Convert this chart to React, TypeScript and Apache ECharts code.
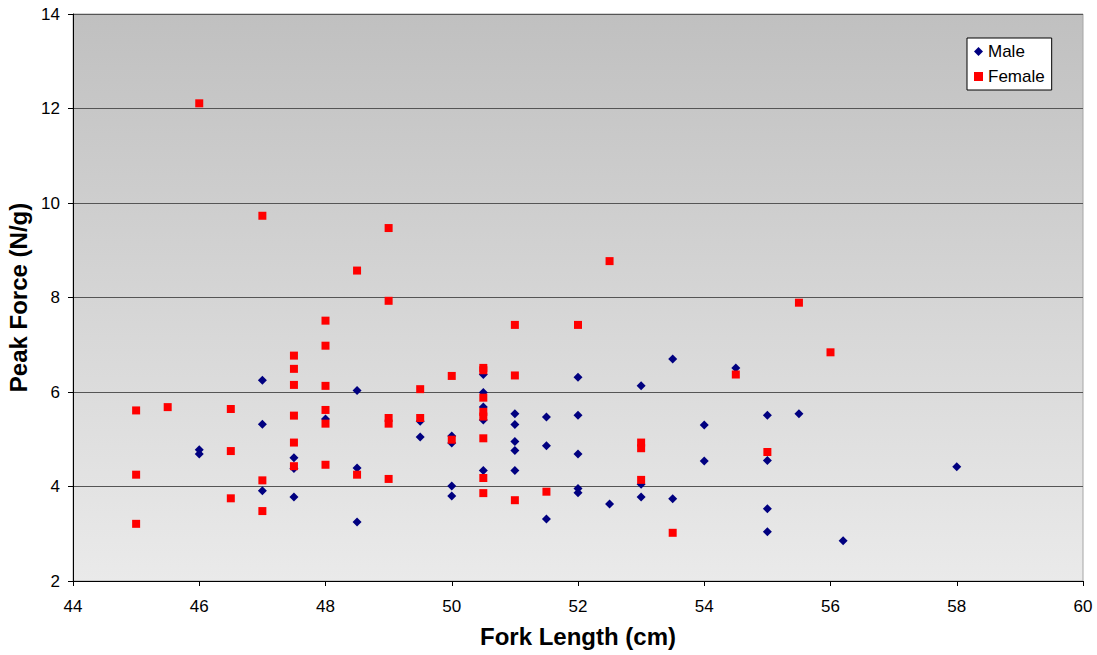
import React, { useEffect, useRef } from "react";
import * as echarts from "echarts";

// Male: [fork length (cm), peak force (N/g)]
const maleX = [46, 46, 47, 47, 47, 47.5, 47.5, 47.5, 48, 48.5, 48.5, 48.5, 49.5, 49.5, 50, 50, 50, 50, 50.5, 50.5, 50.5, 50.5, 50.5, 51, 51, 51, 51, 51, 51.5, 51.5, 51.5, 52, 52, 52, 52, 52, 52.5, 53, 53, 53, 53.5, 53.5, 54, 54, 54.5, 55, 55, 55, 55, 55.5, 56.2, 58];
const maleY = [4.78, 4.69, 6.25, 5.32, 3.91, 4.61, 4.38, 3.78, 5.43, 6.03, 4.39, 3.25, 5.38, 5.05, 5.07, 4.92, 4.01, 3.8, 6.37, 5.99, 5.68, 5.41, 4.34, 5.54, 5.31, 4.95, 4.76, 4.34, 5.47, 4.86, 3.31, 6.31, 5.51, 4.69, 3.96, 3.87, 3.63, 6.13, 4.05, 3.78, 6.7, 3.74, 5.3, 4.54, 6.51, 5.51, 4.55, 3.53, 3.04, 5.54, 2.85, 4.42];

// Female
const femaleX = [45, 45, 45, 45.5, 46, 46.5, 46.5, 46.5, 47, 47, 47, 47.5, 47.5, 47.5, 47.5, 47.5, 47.5, 48, 48, 48, 48, 48, 48, 48.5, 48.5, 49, 49, 49, 49, 49, 49.5, 49.5, 50, 50, 50.5, 50.5, 50.5, 50.5, 50.5, 50.5, 50.5, 50.5, 51, 51, 51, 51.5, 52, 52.5, 53, 53, 53, 53.5, 54.5, 55, 55.5, 56];
const femaleY = [5.61, 4.25, 3.21, 5.68, 12.11, 5.64, 4.75, 3.75, 9.73, 4.13, 3.48, 6.77, 6.49, 6.15, 5.5, 4.93, 4.43, 7.51, 6.98, 6.13, 5.62, 5.33, 4.46, 8.57, 4.25, 9.47, 7.93, 5.45, 5.33, 4.16, 6.06, 5.45, 6.34, 4.99, 6.51, 6.46, 5.88, 5.58, 5.48, 5.02, 4.18, 3.86, 7.42, 6.35, 3.71, 3.89, 7.42, 8.77, 4.93, 4.81, 4.14, 3.02, 6.37, 4.73, 7.89, 6.84];

const seriesNames = ["Male", "Female"];
const xTicks = { min: 44, max: 60, interval: 2 };
const yTicks = { min: 2, max: 14, interval: 2 };

const FONT = "Liberation Sans, Arial, Helvetica, sans-serif";

export default function App() {
  const ref = useRef<HTMLDivElement>(null);
  useEffect(() => {
    if (!ref.current) return;
    const chart = echarts.init(ref.current, null, { renderer: "svg" });
    const male = maleX.map((x, i) => [x, maleY[i]]);
    const female = femaleX.map((x, i) => [x, femaleY[i]]);
    chart.setOption({
      animation: false,
      backgroundColor: "#ffffff",
      textStyle: { fontFamily: FONT },
      grid: {
        left: 73,
        right: 14,
        top: 14,
        bottom: 74,
        containLabel: false,
        outerBoundsMode: "none",
        show: true,
        backgroundColor: new echarts.graphic.LinearGradient(0, 0, 0, 1, [
          { offset: 0, color: "#c0c0c0" },
          { offset: 1, color: "#eaeaea" },
        ]),
        borderColor: "#a6a6a6",
        borderWidth: 1,
      },
      legend: {
        orient: "vertical",
        left: 967,
        top: 38,
        padding: [5, 7, 5, 7],
        itemGap: 8,
        itemWidth: 9,
        itemHeight: 9,
        backgroundColor: "#ffffff",
        borderColor: "#000000",
        borderWidth: 1,
        borderRadius: 0,
        textStyle: { fontSize: 17, lineHeight: 17, color: "#000", fontFamily: FONT, padding: [0, 0, 0, 0] },
        data: [
          { name: seriesNames[0], icon: "diamond" },
          { name: seriesNames[1], icon: "rect" },
        ],
      },
      xAxis: {
        type: "value",
        min: xTicks.min,
        max: xTicks.max,
        interval: xTicks.interval,
        name: "Fork Length (cm)",
        nameLocation: "middle",
        nameGap: 43,
        nameTextStyle: { fontSize: 24, fontWeight: "bold", color: "#000", fontFamily: FONT },
        axisLine: { show: true, onZero: false, lineStyle: { color: "#000", width: 1 } },
        axisTick: { show: true, inside: false, length: 5, lineStyle: { color: "#000" } },
        axisLabel: { fontSize: 17, color: "#000", margin: 17, fontFamily: FONT },
        splitLine: { show: false },
      },
      yAxis: {
        type: "value",
        min: yTicks.min,
        max: yTicks.max,
        interval: yTicks.interval,
        name: "Peak Force (N/g)",
        nameLocation: "middle",
        nameGap: 33,
        nameTextStyle: { fontSize: 24, fontWeight: "bold", color: "#000", fontFamily: FONT },
        axisLine: { show: true, onZero: false, lineStyle: { color: "#000", width: 1 } },
        axisTick: { show: true, inside: false, length: 5, lineStyle: { color: "#000" } },
        axisLabel: { fontSize: 17, color: "#000", margin: 13, fontFamily: FONT },
        splitLine: { show: true, lineStyle: { color: "#555555", width: 1 } },
      },
      series: [
        {
          name: seriesNames[0],
          type: "scatter",
          symbol: "diamond",
          symbolSize: 9,
          itemStyle: { color: "#000080", opacity: 1 },
          data: male,
          z: 3,
        },
        {
          name: seriesNames[1],
          type: "scatter",
          symbol: "rect",
          symbolSize: 8,
          itemStyle: { color: "#ff0000", opacity: 1 },
          data: female,
          z: 4,
        },
      ],
    });
    return () => chart.dispose();
  }, []);
  return (
    <div
      ref={ref}
      style={{ position: "absolute", left: 0, top: 0, width: 1097, height: 655 }}
    />
  );
}
